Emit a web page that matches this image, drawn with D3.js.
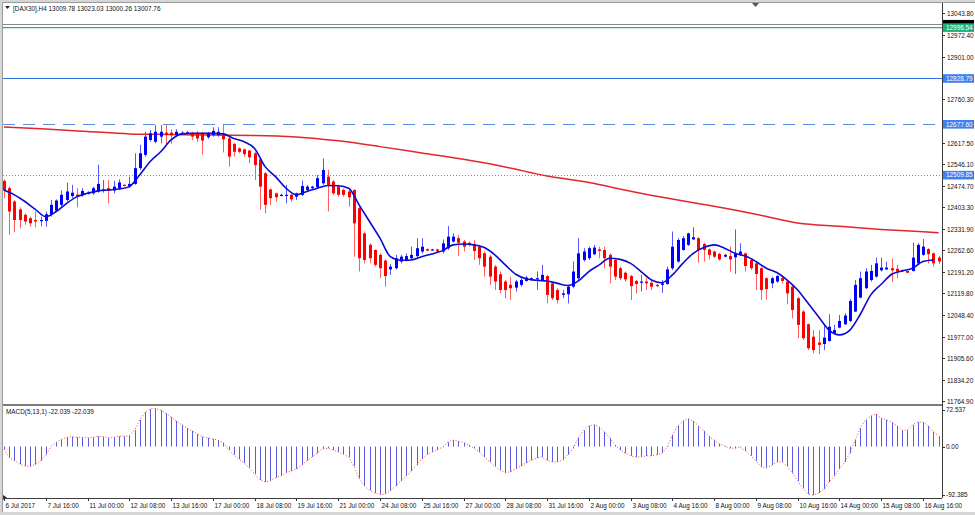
<!DOCTYPE html>
<html><head><meta charset="utf-8">
<script src="https://cdn.jsdelivr.net/npm/d3@7"></script>
<style>
html,body{margin:0;padding:0;background:#d6d6d6;}
svg{display:block;}
text{font-family:"Liberation Sans",Arial,sans-serif;}
</style></head><body>
<svg id="chart" width="975" height="515"></svg>
<script>
// ---- DATA (DAX30, H4) ----
const opens=[12491,12467,12423,12397,12379,12368,12362,12359,12359,12379,12393,12412,12428,12441,12446,12444,12450,12450,12456,12458,12467,12459,12467,12478,12472,12481,12533,12577,12626,12620,12637,12650,12650,12642,12648,12648,12648,12648,12648,12635,12642,12642,12648,12631,12613,12598,12595,12591,12582,12562,12516,12463,12450,12442,12442,12445,12439,12445,12461,12467,12470,12483,12505,12489,12472,12461,12456,12461,12401,12318,12280,12263,12247,12228,12199,12203,12225,12228,12236,12243,12258,12266,12263,12265,12258,12269,12291,12302,12291,12287,12282,12274,12252,12241,12208,12183,12159,12148,12139,12148,12161,12164,12168,12164,12177,12153,12131,12115,12117,12142,12170,12230,12236,12249,12265,12263,12247,12230,12203,12188,12177,12161,12157,12159,12155,12148,12148,12151,12203,12225,12263,12280,12298,12302,12283,12265,12258,12250,12241,12243,12239,12247,12252,12230,12219,12203,12170,12153,12159,12170,12159,12142,12104,12060,12018,11977,11958,11953,11963,11988,12007,12018,12029,12060,12106,12137,12164,12175,12196,12199,12203,12201,12194,12194,12194,12219,12247,12266,12252,12238];
const highs=[12496,12472,12428,12404,12384,12373,12390,12373,12390,12428,12430,12459,12485,12478,12467,12467,12457,12472,12544,12494,12494,12491,12496,12480,12505,12582,12610,12653,12659,12675,12675,12675,12661,12661,12655,12656,12653,12656,12653,12652,12668,12668,12679,12637,12617,12602,12598,12593,12587,12569,12521,12466,12452,12448,12478,12448,12452,12492,12478,12475,12510,12565,12527,12494,12478,12466,12466,12463,12406,12324,12285,12265,12252,12232,12217,12247,12247,12252,12274,12302,12302,12268,12267,12267,12298,12342,12318,12313,12296,12290,12296,12280,12258,12247,12214,12192,12164,12175,12164,12170,12178,12173,12192,12214,12181,12159,12137,12131,12148,12225,12302,12269,12274,12280,12274,12274,12252,12236,12208,12192,12181,12164,12181,12170,12162,12151,12164,12208,12324,12302,12309,12320,12338,12305,12287,12268,12261,12254,12250,12274,12331,12285,12254,12232,12221,12208,12173,12175,12181,12175,12164,12148,12109,12065,12021,11999,11999,12016,12051,12016,12049,12054,12102,12164,12192,12203,12214,12238,12238,12225,12234,12214,12199,12196,12288,12285,12299,12269,12255,12244];
const lows=[12434,12313,12323,12335,12346,12340,12338,12342,12340,12373,12390,12404,12423,12434,12404,12439,12446,12445,12452,12452,12417,12450,12461,12473,12467,12478,12527,12571,12620,12615,12615,12610,12613,12637,12644,12645,12626,12620,12577,12630,12637,12637,12585,12538,12571,12582,12571,12549,12494,12397,12384,12412,12423,12440,12417,12423,12428,12441,12456,12463,12466,12478,12390,12445,12439,12439,12406,12241,12192,12219,12219,12208,12170,12142,12181,12199,12219,12225,12230,12239,12252,12259,12261,12255,12252,12263,12287,12243,12258,12275,12230,12214,12175,12148,12131,12120,12104,12098,12126,12142,12159,12161,12131,12161,12087,12098,12087,12104,12087,12137,12164,12225,12230,12247,12236,12203,12153,12164,12164,12159,12098,12120,12126,12131,12131,12140,12122,12148,12197,12221,12261,12276,12296,12221,12225,12232,12237,12228,12239,12192,12184,12243,12192,12197,12131,12098,12100,12137,12155,12153,12084,12038,11972,11966,11933,11922,11919,11933,11961,11985,12005,12016,12025,12058,12104,12135,12159,12172,12192,12197,12157,12170,12192,12186,12192,12216,12244,12219,12208,12216];
const closes=[12459,12390,12362,12362,12357,12351,12357,12362,12381,12412,12426,12445,12456,12452,12441,12458,12452,12467,12481,12463,12459,12472,12486,12475,12481,12533,12582,12637,12648,12653,12653,12642,12641,12653,12650,12651,12637,12631,12624,12648,12656,12653,12628,12571,12587,12587,12579,12569,12543,12472,12412,12434,12437,12445,12445,12430,12450,12474,12472,12472,12500,12527,12478,12450,12445,12445,12437,12351,12236,12230,12236,12214,12203,12177,12208,12236,12241,12243,12247,12269,12274,12261,12265,12258,12285,12307,12307,12287,12274,12280,12260,12236,12208,12175,12159,12131,12131,12137,12159,12164,12172,12170,12170,12181,12115,12104,12098,12120,12142,12192,12252,12258,12269,12271,12260,12236,12208,12175,12170,12166,12144,12151,12159,12153,12142,12144,12153,12199,12274,12296,12302,12318,12305,12263,12263,12247,12241,12232,12247,12232,12250,12258,12210,12203,12184,12131,12134,12170,12177,12161,12120,12065,12016,11972,11939,11933,11950,11974,12010,11999,12029,12047,12095,12148,12170,12192,12194,12219,12205,12205,12196,12192,12197,12188,12238,12280,12274,12249,12219,12225];
// blue moving average, one value every 2 bars (bars 0,2,4,...,178)
const blueMA=[12461,12445,12423,12397,12373,12390,12417,12439,12450,12458,12461,12464,12472,12511,12555,12587,12626,12646,12648,12648,12648,12646,12631,12620,12598,12538,12505,12467,12445,12456,12467,12476,12475,12467,12412,12357,12302,12241,12229,12230,12241,12250,12261,12280,12283,12280,12271,12247,12214,12183,12168,12163,12161,12153,12146,12161,12192,12214,12236,12232,12219,12192,12164,12155,12181,12219,12252,12271,12280,12269,12252,12243,12225,12203,12189,12164,12131,12087,12043,11999,11983,11999,12051,12115,12150,12183,12194,12203,12225,12230];
// red long moving average
const redMABars=[0,8,16,24,32,40,48,56,64,72,80,88,96,104,112,120,128,136,144,152,160,168,176,179];
const redMA=[12669,12662,12654,12646,12644,12642,12641,12636,12623,12604,12583,12562,12537,12507,12486,12457,12431,12407,12381,12352,12341,12331,12323,12320];
// MACD(5,13,1) histogram per bar
const macd=[-5,-20,-26,-32,-35.5,-36.5,-33,-26,-15,0,8,13,17,18,17,17,16,17,19,18,16,17,19,19,20,30,49,63,69,70,67,61,54,47,40,34,29,23,18,16,14,12,7,-6,-15,-23,-30,-39,-50,-61,-65,-63,-57,-54,-48,-45,-41,-34,-26,-19,-12,-4,-3,-6,-10,-14,-19,-36,-58,-72,-80,-85,-88,-87,-81,-72,-63,-54,-45,-34,-23,-15,-10,-6,-1,8,12,10,7,3,-3,-10,-19,-28,-36,-43,-48,-46,-41,-36,-30,-25,-21,-19,-25,-28,-28,-25,-15,-3,16,30,38,40,36,27,16,3,-6,-12,-17,-19,-19,-17,-17,-15,-12,-1,21,38,47,51,47,38,29,19,12,5,1,-3,-3,-1,-8,-17,-26,-37,-39,-34,-28,-28,-36,-48,-63,-76,-87,-89,-85,-78,-65,-54,-41,-28,-12,12,34,49,56,60,52,49,45,38,30,30,40,45,45,38,27,19];
// time axis labels, one every 8 bars
const timeLabels=["6 Jul 2017","7 Jul 16:00","11 Jul 00:00","12 Jul 08:00","13 Jul 16:00","17 Jul 00:00","18 Jul 08:00","19 Jul 16:00","21 Jul 00:00","24 Jul 08:00","25 Jul 16:00","27 Jul 00:00","28 Jul 08:00","31 Jul 16:00","2 Aug 00:00","3 Aug 08:00","4 Aug 16:00","8 Aug 00:00","9 Aug 08:00","10 Aug 16:00","14 Aug 00:00","15 Aug 08:00","16 Aug 16:00"];
// visible price-axis tick labels (the ones under the level labels are hidden in the reference)
const priceTicks=["13043.80","12972.40","12901.00","12760.30","12617.50","12546.10","12474.70","12403.30","12331.90","12262.60","12191.20","12119.80","12048.40","11977.00","11905.60","11834.20","11764.90"];
const macdTicks=["72.537","0.00","-92.385"];
const levelValues=[12828.79,12677.60,12509.85];
const bidValue=13007.76, greenLevel=12996.54;
const headerText="[DAX30],H4  13009.78 13023.03 13000.26 13007.76";
const macdHeader="MACD(5,13,1) -22.039 -22.039";

// ---- LAYOUT ----
const svg=d3.select("#chart");
const L=3, R=942, T=3, mainB=404, macdT=406, macdB=498;
const x=d3.scaleLinear().domain([0,176]).range([4,923]);
const y=d3.scaleLinear().domain([11834.2,13043.8]).range([380,13.3]);
const ym=d3.scaleLinear().domain([-92.385,72.537]).range([497,407]);
const FS=6.4;

svg.append("rect").attr("x",3).attr("y",3).attr("width",972).attr("height",509).attr("fill","#fff");
svg.append("line").attr("x1",2.5).attr("x2",975).attr("y1",2.5).attr("y2",2.5).attr("stroke","#9a9a9a");
svg.append("line").attr("x1",2.5).attr("x2",2.5).attr("y1",2.5).attr("y2",512).attr("stroke","#9a9a9a");

const defs=svg.append("defs");
defs.append("clipPath").attr("id","cm").append("rect").attr("x",L).attr("y",T).attr("width",R-L).attr("height",mainB-T);
defs.append("clipPath").attr("id","cd").append("rect").attr("x",L).attr("y",macdT).attr("width",R-L).attr("height",macdB-macdT);

const gm=svg.append("g").attr("clip-path","url(#cm)");
const idx=d3.range(closes.length);

// horizontal level lines
gm.append("line").attr("x1",L).attr("x2",R).attr("y1",Math.round(y(bidValue))+0.5).attr("y2",Math.round(y(bidValue))+0.5).attr("stroke","#8a8a8a");
gm.append("line").attr("x1",L).attr("x2",R).attr("y1",y(greenLevel)).attr("y2",y(greenLevel)).attr("stroke","#25b08a").attr("stroke-width",1.4);
const lvlStyle=[{c:"#2f6fdc",d:null},{c:"#5a8fe0",d:"12,8"},{c:"#4f95c9",d:"1,2"}];
levelValues.forEach((v,i)=>{
  gm.append("line").attr("x1",L).attr("x2",R).attr("y1",Math.round(y(v))+0.5).attr("y2",Math.round(y(v))+0.5)
    .attr("stroke",lvlStyle[i].c).attr("stroke-width",1).attr("stroke-dasharray",lvlStyle[i].d);
});

// red long MA
gm.append("path").datum(redMABars.map((b,i)=>[b,redMA[i]]))
  .attr("d",d3.line().x(d=>x(d[0])).y(d=>y(d[1])).curve(d3.curveMonotoneX))
  .attr("fill","none").attr("stroke","#e3262b").attr("stroke-width",1.5);

// candles
const bw=3;
const cg=gm.append("g");
cg.selectAll(".wick").data(idx).join("line")
  .attr("x1",i=>Math.round(x(i))+0.5).attr("x2",i=>Math.round(x(i))+0.5)
  .attr("y1",i=>y(highs[i])).attr("y2",i=>y(lows[i]))
  .attr("stroke",i=>closes[i]>=opens[i]?"#5656ff":"#ff5c5c").attr("stroke-width",1);
cg.selectAll(".body").data(idx).join("rect")
  .attr("x",i=>Math.round(x(i))-1)
  .attr("y",i=>y(Math.max(opens[i],closes[i])))
  .attr("width",bw)
  .attr("height",i=>Math.max(1.2,Math.abs(y(opens[i])-y(closes[i]))))
  .attr("fill",i=>closes[i]>=opens[i]?"#0000ff":"#ff0000");

// blue MA
gm.append("path").datum(blueMA.map((v,k)=>[k*2,v]))
  .attr("d",d3.line().x(d=>x(d[0])).y(d=>y(d[1])).curve(d3.curveMonotoneX))
  .attr("fill","none").attr("stroke","#0a0ad0").attr("stroke-width",1.6);

// MACD panel
const gd=svg.append("g").attr("clip-path","url(#cd)");
gd.selectAll("line.h").data(idx).join("line")
  .attr("x1",i=>Math.round(x(i))+0.5).attr("x2",i=>Math.round(x(i))+0.5)
  .attr("y1",ym(0)).attr("y2",i=>ym(macd[i]))
  .attr("stroke","#5a5ae6").attr("stroke-width",1);
gd.append("path").datum(idx)
  .attr("d",d3.line().x(i=>x(i)).y(i=>ym(macd[i])))
  .attr("fill","none").attr("stroke","#e8474a").attr("stroke-width",1).attr("stroke-dasharray","1,2");

// frame lines
svg.append("rect").attr("x",L).attr("y",mainB).attr("width",R-L).attr("height",2).attr("fill","#7c7c7c");
svg.append("line").attr("x1",R+0.5).attr("x2",R+0.5).attr("y1",T).attr("y2",macdB).attr("stroke","#3c3c3c");
svg.append("line").attr("x1",L).attr("x2",R).attr("y1",macdB+0.5).attr("y2",macdB+0.5).attr("stroke","#3c3c3c");

// price axis
const pa=svg.append("g");
priceTicks.forEach(t=>{
  const yy=Math.round(y(+t))+0.5;
  pa.append("line").attr("x1",R).attr("x2",R+3).attr("y1",yy).attr("y2",yy).attr("stroke","#333");
  pa.append("text").attr("x",R+5).attr("y",yy).attr("dy","0.35em").attr("font-size",FS).attr("fill","#111").text(t);
});
function priceLabel(v,txt,bg){
  const yy=y(v);
  pa.append("rect").attr("x",R+1).attr("y",yy-4.3).attr("width",31).attr("height",8.6).attr("fill",bg);
  if(txt) pa.append("text").attr("x",R+4).attr("y",yy).attr("dy","0.35em").attr("font-size",FS).attr("fill","#fff").text(txt);
}
priceLabel(bidValue,null,"#000");
priceLabel(greenLevel,greenLevel.toFixed(2),"#1fae7c");
levelValues.forEach(v=>priceLabel(v,v.toFixed(2),"#3d80ee"));

// MACD axis
macdTicks.forEach((t,i)=>{
  const yy=i===0?410:(i===1?ym(0):494.5);
  pa.append("line").attr("x1",R).attr("x2",R+3).attr("y1",Math.round(yy)+0.5).attr("y2",Math.round(yy)+0.5).attr("stroke","#333");
  pa.append("text").attr("x",R+4).attr("y",yy).attr("dy","0.35em").attr("font-size",FS).attr("fill","#111").text(t);
});

// time axis
const ta=svg.append("g");
timeLabels.forEach((t,k)=>{
  const xx=Math.round(x(k*8))+0.5;
  ta.append("line").attr("x1",xx).attr("x2",xx).attr("y1",macdB).attr("y2",macdB+3).attr("stroke","#333");
  ta.append("text").attr("x",xx+1).attr("y",508).attr("font-size",FS).attr("fill","#111").text(t);
});

// headers
svg.append("path").attr("d","M5,6 L10,6 L7.5,9 Z").attr("fill","#222");
svg.append("text").attr("x",13).attr("y",10.5).attr("font-size",FS).attr("fill","#111").text(headerText);
svg.append("text").attr("x",6).attr("y",413.5).attr("font-size",FS).attr("fill","#111").text(macdHeader);
// chart shift marker
svg.append("path").attr("d","M752,3 L759,3 L755.5,7 Z").attr("fill","#555");
svg.append("path").attr("d","M3,495 L3,500 L7,497.5 Z").attr("fill","#333");
</script>
</body></html>
